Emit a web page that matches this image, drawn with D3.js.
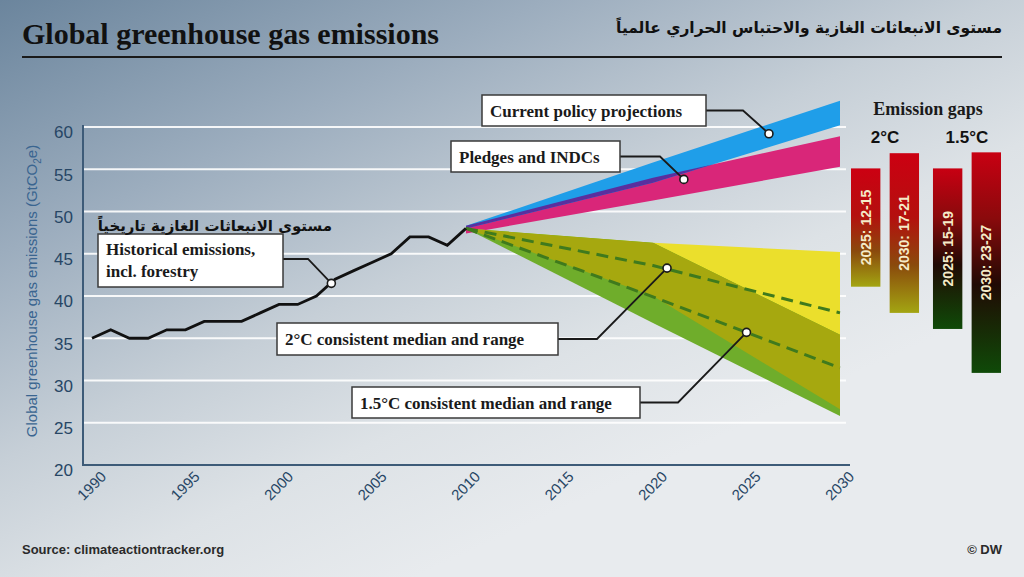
<!DOCTYPE html>
<html>
<head>
<meta charset="utf-8">
<script src="https://cdn.jsdelivr.net/npm/d3@7"></script>
<style>
  body { margin: 0; }
  svg { display: block; }
</style>
</head>
<body>
<div id="chart"></div>
<script>
// historical emissions (GtCO2e), 1990-2010
const histYears = d3.range(1990, 2011);
const histValues = [35, 36, 35, 35, 36, 36, 37, 37, 37, 38, 39, 39, 40, 42, 43, 44, 45, 47, 47, 46, 48];

// projection bands, 2010 / 2020 / 2030
const projYears = [2010, 2020, 2030];
const policyLow = [48.0, 53.4, 60.2];
const policyHigh = [48.3, 55.8, 63.1];
const pledgeLow = [47.4, 51.3, 55.3];
const pledgeHigh = [48.3, 54.0, 58.9];
const twoLow = [48.0, 40.0, 26.6];
const twoHigh = [48.0, 46.3, 45.2];
const twoMedian = [48.0, 43.6, 38.0];
const oneFiveLow = [48.0, 36.8, 25.8];
const oneFiveHigh = [48.0, 46.3, 35.4];
const oneFiveMedian = [48.0, 39.9, 31.5];

// emission gap bars
const gapGroups = ["2°C", "1.5°C"];
const gapYears = ["2025", "2030"];
const gapLabels = ["2025: 12-15", "2030: 17-21", "2025: 15-19", "2030: 23-27"];
const gapTop = [55.1, 56.9, 55.1, 57.0];
const gapBottom = [41.1, 38.0, 36.1, 30.9];

const xTicks = [1990, 1995, 2000, 2005, 2010, 2015, 2020, 2025, 2030];
const yTicks = [20, 25, 30, 35, 40, 45, 50, 55, 60];

const W = 1024, H = 577;
const serif = "'Liberation Serif', 'DejaVu Serif', serif";
const sans = "'Liberation Sans', Arial, sans-serif";
const arabic = "'DejaVu Sans', sans-serif";

const svg = d3.select("#chart").append("svg")
    .attr("width", W)
    .attr("height", H);

const defs = svg.append("defs");

const bg = defs.append("linearGradient")
    .attr("id", "bg")
    .attr("gradientUnits", "userSpaceOnUse")
    .attr("x1", 0).attr("y1", 0)
    .attr("x2", 293).attr("y2", 634);
bg.append("stop").attr("offset", 0).attr("stop-color", "#6b859d");
bg.append("stop").attr("offset", 0.33).attr("stop-color", "#9cadbe");
bg.append("stop").attr("offset", 0.6).attr("stop-color", "#c6cfd7");
bg.append("stop").attr("offset", 0.8).attr("stop-color", "#dde2e6");
bg.append("stop").attr("offset", 1).attr("stop-color", "#e8ebee");

svg.append("rect")
    .attr("width", W).attr("height", H)
    .attr("fill", "url(#bg)");

const x = d3.scaleLinear().domain([1990, 2030]).range([92, 840]);
const y = d3.scaleLinear().domain([20, 60]).range([465, 127]);

// gridlines
svg.append("g")
    .selectAll("line")
    .data(yTicks.slice(1))
    .enter()
    .append("line")
    .attr("x1", 83).attr("x2", 846)
    .attr("y1", d => y(d)).attr("y2", d => y(d))
    .attr("stroke", "#ffffff")
    .attr("stroke-width", 2.2)
    .attr("opacity", 0.9);

// axes
const yAxis = svg.append("g")
    .attr("transform", "translate(83,0)")
    .call(d3.axisLeft(y).tickValues(yTicks).tickSize(0).tickPadding(10));
yAxis.select(".domain").remove();
yAxis.selectAll("text")
    .attr("dy", "0.75em")
    .attr("y", -2)
    .attr("fill", "#274665")
    .style("font-family", sans)
    .style("font-size", "17px");

const xAxis = svg.append("g")
    .attr("transform", "translate(0,465)")
    .call(d3.axisBottom(x).tickValues(xTicks).tickFormat(d3.format("d")).tickSize(0));
xAxis.select(".domain").remove();
xAxis.selectAll("text")
    .attr("text-anchor", "end")
    .attr("transform", "translate(11,9) rotate(-45)")
    .attr("dy", "0.35em")
    .attr("y", 0)
    .attr("fill", "#274665")
    .style("font-family", sans)
    .style("font-size", "15px");

svg.append("path")
    .attr("d", `M83,125 V465 H850`)
    .attr("fill", "none")
    .attr("stroke", "#3d5b78")
    .attr("stroke-width", 2);

svg.append("text")
    .attr("transform", `translate(37,${(127 + 455) / 2}) rotate(-90)`)
    .attr("text-anchor", "middle")
    .attr("fill", "#3a6590")
    .style("font-family", sans)
    .style("font-size", "15px")
    .text("Global greenhouse gas emissions (GtCO")
    .append("tspan").attr("dy", 4).style("font-size", "10px").text("2")
    .select(function() { return this.parentNode; })
    .append("tspan").attr("dy", -4).text("e)");

// bands
function band(low, high) {
    return projYears.map((yr, i) => ({ year: yr, low: low[i], high: high[i] }));
}
const area = d3.area()
    .x(d => x(d.year))
    .y0(d => y(d.low))
    .y1(d => y(d.high));

const pledgeBand = band(pledgeLow, pledgeHigh);
const policyBand = band(policyLow, policyHigh);
const twoBand = band(twoLow, twoHigh);
const oneFiveBand = band(oneFiveLow, oneFiveHigh);

defs.append("clipPath").attr("id", "clipPledge")
    .append("path").attr("d", area(pledgeBand));
defs.append("clipPath").attr("id", "clipTwo")
    .append("path").attr("d", area(twoBand));

svg.append("path").attr("d", area(pledgeBand)).attr("fill", "#d92679");
svg.append("path").attr("d", area(policyBand)).attr("fill", "#1f9ee9");
svg.append("path").attr("d", area(policyBand)).attr("fill", "#5a2f9e")
    .attr("clip-path", "url(#clipPledge)");

svg.append("path").attr("d", area(twoBand)).attr("fill", "#ebdf2c");
svg.append("path").attr("d", area(oneFiveBand)).attr("fill", "#6fad2b");
svg.append("path").attr("d", area(oneFiveBand)).attr("fill", "#a6a80f")
    .attr("clip-path", "url(#clipTwo)");

const medLine = d3.line().x((d, i) => x(projYears[i])).y(d => y(d));
[twoMedian, oneFiveMedian].forEach(m => {
    svg.append("path")
        .attr("d", medLine(m))
        .attr("fill", "none")
        .attr("stroke", "#3f7a1d")
        .attr("stroke-width", 3)
        .attr("stroke-dasharray", "12,7");
});

// historical line
svg.append("path")
    .datum(histValues)
    .attr("d", d3.line().x((d, i) => x(histYears[i])).y(d => y(d)))
    .attr("fill", "none")
    .attr("stroke", "#111")
    .attr("stroke-width", 2.8)
    .attr("stroke-linejoin", "miter");

// callouts: box (pixel layout), elbow and anchor on the data
const callouts = [
    { lines: ["Current policy projections"], box: [482, 95, 224, 31], elbowX: 743, at: [2026.2, 59.2] },
    { lines: ["Pledges and INDCs"], box: [451, 141, 169, 31], elbowX: 660, at: [2021.65, 53.8] },
    { lines: ["Historical emissions,", "incl. forestry"], box: [98, 234, 185, 53], elbowX: 308, elbowY: 259, at: [2002.8, 41.5] },
    { lines: ["2°C consistent median and range"], box: [277, 323, 281, 32], elbowX: 597, at: [2020.75, 43.3] },
    { lines: ["1.5°C consistent median and range"], box: [352, 387, 288, 31], elbowX: 678, at: [2025.0, 35.7] }
];

callouts.forEach(c => {
    const [bx, by, bw, bh] = c.box;
    const ly = c.elbowY || by + bh / 2;
    const ax = x(c.at[0]), ay = y(c.at[1]);
    svg.append("path")
        .attr("d", `M${bx + bw},${ly} H${c.elbowX} L${ax},${ay}`)
        .attr("fill", "none")
        .attr("stroke", "#1a1a1a")
        .attr("stroke-width", 1.8);
    svg.append("rect")
        .attr("x", bx).attr("y", by)
        .attr("width", bw).attr("height", bh)
        .attr("fill", "#ffffff")
        .attr("stroke", "#3a3a3a")
        .attr("stroke-width", 1.5);
    const t = svg.append("text")
        .attr("x", bx + 8)
        .attr("y", by + (c.lines.length > 1 ? 21 : 22))
        .attr("fill", "#1a1a1a")
        .style("font-family", serif)
        .style("font-weight", "bold")
        .style("font-size", "17px");
    c.lines.forEach((l, i) => {
        t.append("tspan").attr("x", bx + 8).attr("dy", i ? 22 : 0).text(l);
    });
    svg.append("circle")
        .attr("cx", ax).attr("cy", ay).attr("r", 4)
        .attr("fill", "#ffffff")
        .attr("stroke", "#1a1a1a")
        .attr("stroke-width", 1.6);
});

svg.append("text")
    .attr("x", 332).attr("y", 231)
    .attr("direction", "rtl")
    .attr("text-anchor", "start")
    .attr("fill", "#111")
    .style("font-family", arabic)
    .style("font-weight", "bold")
    .style("font-size", "15px")
    .text("مستوى الانبعاثات الغازية تاريخياً");

// emission gaps
const gx = d3.scaleBand().domain(gapGroups).range([851, 1001]).paddingInner(0.17);
const bx = d3.scaleBand().domain(gapYears).range([0, gx.bandwidth()]).paddingInner(0.24);

const grad2 = defs.append("linearGradient").attr("id", "gap2").attr("x1", 0).attr("y1", 0).attr("x2", 0).attr("y2", 1);
grad2.append("stop").attr("offset", 0).attr("stop-color", "#cc0012");
grad2.append("stop").attr("offset", 0.4).attr("stop-color", "#b4100e");
grad2.append("stop").attr("offset", 0.7).attr("stop-color", "#8a4a0c");
grad2.append("stop").attr("offset", 1).attr("stop-color", "#a3a512");
const grad15 = defs.append("linearGradient").attr("id", "gap15").attr("x1", 0).attr("y1", 0).attr("x2", 0).attr("y2", 1);
grad15.append("stop").attr("offset", 0).attr("stop-color", "#c80012");
grad15.append("stop").attr("offset", 0.3).attr("stop-color", "#8a0a0c");
grad15.append("stop").attr("offset", 0.6).attr("stop-color", "#200a04");
grad15.append("stop").attr("offset", 1).attr("stop-color", "#0f4a08");

const gapData = gapLabels.map((l, i) => ({
    label: l,
    group: gapGroups[Math.floor(i / 2)],
    year: gapYears[i % 2],
    top: gapTop[i],
    bottom: gapBottom[i]
}));

const bars = svg.append("g").selectAll("g").data(gapData).enter().append("g");
bars.append("rect")
    .attr("x", d => gx(d.group) + bx(d.year))
    .attr("y", d => y(d.top))
    .attr("width", bx.bandwidth())
    .attr("height", d => y(d.bottom) - y(d.top))
    .attr("fill", d => d.group === "2°C" ? "url(#gap2)" : "url(#gap15)");
bars.append("text")
    .attr("transform", d => `translate(${gx(d.group) + bx(d.year) + bx.bandwidth() / 2 + 5},${(y(d.top) + y(d.bottom)) / 2}) rotate(-90)`)
    .attr("text-anchor", "middle")
    .attr("fill", "#f5eac8")
    .style("font-family", sans)
    .style("font-weight", "bold")
    .style("font-size", "14px")
    .text(d => d.label);

svg.append("text")
    .attr("x", 928).attr("y", 115)
    .attr("text-anchor", "middle")
    .attr("fill", "#1a1a1a")
    .style("font-family", serif)
    .style("font-weight", "bold")
    .style("font-size", "18px")
    .text("Emission gaps");

svg.selectAll(".gapHead")
    .data(gapGroups)
    .enter()
    .append("text")
    .attr("x", d => gx(d) + gx.bandwidth() / 2)
    .attr("y", 143)
    .attr("text-anchor", "middle")
    .attr("fill", "#111")
    .style("font-family", sans)
    .style("font-weight", "bold")
    .style("font-size", "17px")
    .text(d => d);

// title
svg.append("text")
    .attr("x", 22).attr("y", 44)
    .attr("fill", "#111")
    .style("font-family", serif)
    .style("font-weight", "bold")
    .style("font-size", "30px")
    .text("Global greenhouse gas emissions");

svg.append("text")
    .attr("x", 1002).attr("y", 33)
    .attr("direction", "rtl")
    .attr("text-anchor", "start")
    .attr("fill", "#111")
    .style("font-family", arabic)
    .style("font-weight", "bold")
    .style("font-size", "15.5px")
    .text("مستوى الانبعاثات الغازية والاحتباس الحراري عالمياً");

svg.append("line")
    .attr("x1", 22).attr("x2", 1002)
    .attr("y1", 57).attr("y2", 57)
    .attr("stroke", "#1a1a1a")
    .attr("stroke-width", 2.2);

// footer
svg.append("text")
    .attr("x", 22).attr("y", 554)
    .attr("fill", "#2a2a2a")
    .style("font-family", "'Liberation Sans Narrow', 'Liberation Sans', sans-serif")
    .style("font-weight", "bold")
    .style("font-size", "13px")
    .text("Source: climateactiontracker.org");

svg.append("text")
    .attr("x", 1002).attr("y", 554)
    .attr("text-anchor", "end")
    .attr("fill", "#2a2a2a")
    .style("font-family", "'Liberation Sans Narrow', 'Liberation Sans', sans-serif")
    .style("font-weight", "bold")
    .style("font-size", "13px")
    .text("© DW");
</script>
</body>
</html>
